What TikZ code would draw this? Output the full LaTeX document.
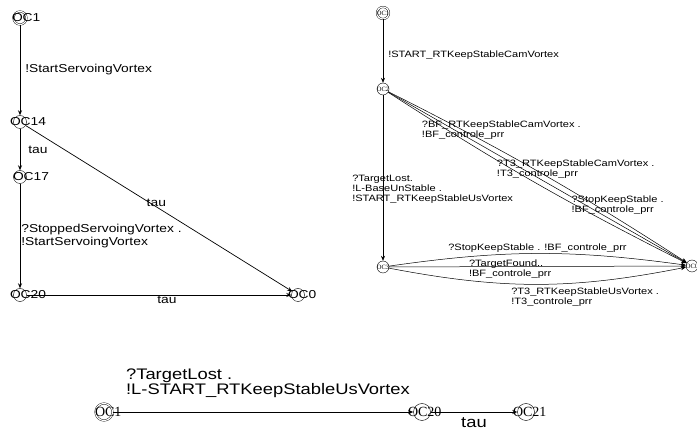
\documentclass[tikz,border=0pt]{standalone}
\usepackage{fontspec}
\setmainfont{Liberation Serif}
\newfontfamily\lblfont[FakeStretch=1.2]{Liberation Sans}
\usetikzlibrary{automata,arrows.meta}

\newcommand\ocname[2]{\makebox[0pt][l]{\kern-#1pt #2}}

\begin{document}
\begin{tikzpicture}[x=1pt,y=1pt,->,>={Stealth[length=5pt,width=4pt]},
   every state/.style={draw,inner sep=0pt},
   lstate/.style={state,minimum size=13pt,font=\lblfont\fontsize{11.5}{12}\selectfont},
   rstate/.style={state,minimum size=12pt,font=\fontsize{6.5}{7}\selectfont},
   bstate/.style={state,minimum size=17pt,font=\fontsize{14}{14}\selectfont},
   init/.style={double,double distance=1.2pt}]
 \useasboundingbox (0,0) rectangle (697,-438);
 % left automaton
 \node[lstate,init] (l1) at (20,-18) {\ocname{8}{OC1}};
 \node[lstate] (l14) at (20,-122) {\ocname{10}{OC14}};
 \node[lstate] (l17) at (20,-177) {\ocname{7}{OC17}};
 \node[lstate] (l20) at (20,-295) {\ocname{10}{OC20}};
 \node[lstate] (l0) at (298,-295) {\ocname{10}{OC0}};
 % right automaton
 \node[rstate,init] (r1) at (383,-13) {\makebox[0pt]{OC1}};
 \node[rstate] (r2) at (383,-89) {\makebox[0pt]{OC2}};
 \node[rstate] (r3) at (383,-267) {\makebox[0pt]{OC3}};
 \node[rstate] (r0) at (692,-266) {\makebox[0pt]{OC0}};
 % bottom automaton
 \node[bstate,init] (b1) at (104,-412) {\ocname{9}{OC1}};
 \node[bstate] (b20) at (422,-412) {\ocname{14}{OC20}};
 \node[bstate] (b21) at (526,-412) {\ocname{13}{OC21}};

 \tikzset{every node/.style={font=\lblfont\fontsize{11.5}{12.5}\selectfont,inner sep=1pt,align=left}}
 \draw[line width=0.7pt] (l1) edge node[anchor=west,xshift=4pt] {!StartServoingVortex} (l14)
  (l14) edge node[anchor=west,xshift=7pt] {tau} (l17)
  (l14) edge node[pos=0.49,yshift=4pt] {tau} (l0)
  (l17) edge node[anchor=west] {?StoppedServoingVortex .\\!StartServoingVortex} (l20)
  (l20) edge node[pos=0.53,anchor=north] {tau} (l0);

 \tikzset{every node/.style={font=\lblfont\fontsize{9.2}{10}\selectfont,inner sep=1pt,align=left}}
 \draw[line width=0.5pt] (r1) edge node[pos=0.56,anchor=west,xshift=4pt] {!START\_RTKeepStableCamVortex} (r2)
  (r2) edge node[pos=0.57,anchor=west,xshift=-32pt] {?TargetLost.\\!L-BaseUnStable .\\!START\_RTKeepStableUsVortex} (r3)
  (r2) edge[bend right=3] node[pos=0.1,anchor=north west,yshift=-6pt] {?BF\_RTKeepStableCamVortex .\\!BF\_controle\_prr} (r0)
  (r2) edge node[pos=0.36,anchor=north west,yshift=-5pt] {?T3\_RTKeepStableCamVortex .\\!T3\_controle\_prr} (r0)
  (r2) edge[bend left=3] node[pos=0.61,anchor=north west,yshift=-4pt] {?StopKeepStable .\\!BF\_controle\_prr} (r0)
  (r3) edge[bend left=8] node[anchor=south] {?StopKeepStable . !BF\_controle\_prr} (r0)
  (r3) edge node[pos=0.265,anchor=west,yshift=-2pt] {?TargetFound..\\!BF\_controle\_prr} (r0)
  (r3) edge[bend right=11] node[pos=0.4,anchor=north west,yshift=-3pt] {?T3\_RTKeepStableUsVortex .\\!T3\_controle\_prr} (r0);

 \tikzset{every node/.style={font=\lblfont\fontsize{15.3}{14}\selectfont,inner sep=1pt,align=left}}
 \draw[line width=0.8pt] (b1) edge node[pos=0.04,anchor=south west,yshift=13pt] {?TargetLost .\\!L-START\_RTKeepStableUsVortex} (b20)
  (b20) edge node[pos=0.5,anchor=north,yshift=-4pt] {tau} (b21);
\end{tikzpicture}
\end{document}
